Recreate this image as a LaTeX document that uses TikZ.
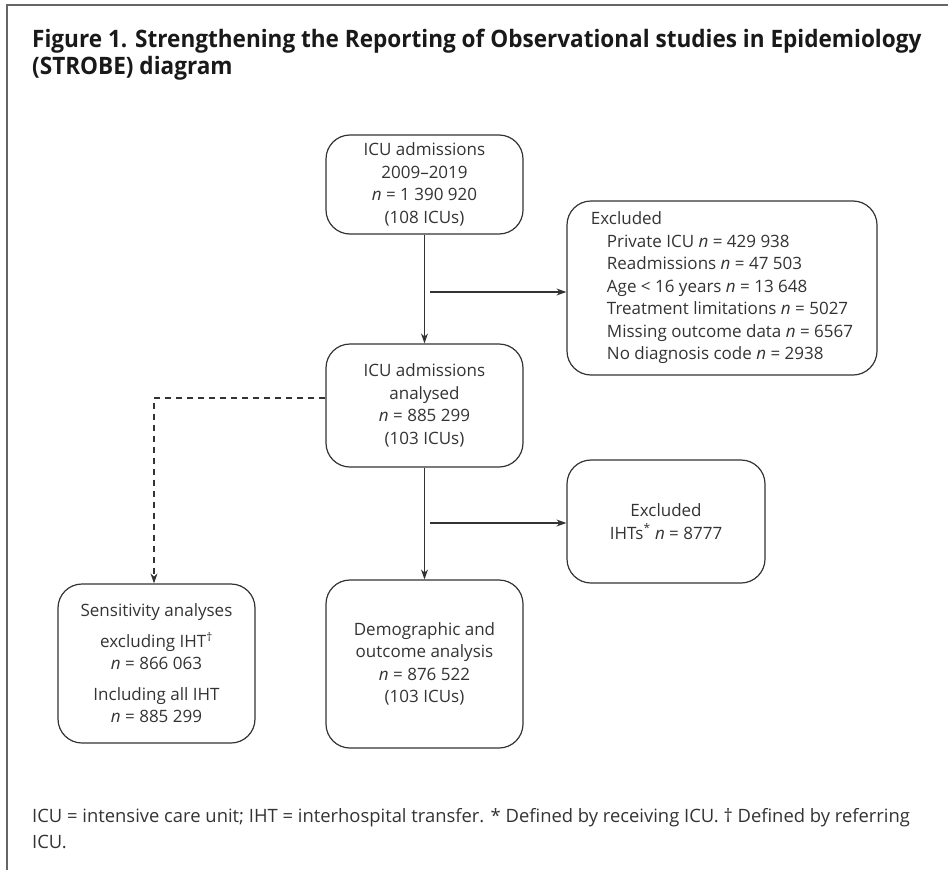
\documentclass[tikz,border=0pt]{standalone}
\usepackage{fontspec}
\setmainfont{Open Sans}
\newfontfamily\titlefont[FakeStretch=0.94]{Open Sans}
\usetikzlibrary{arrows.meta,calc}
\definecolor{ink}{HTML}{333333}
\definecolor{frame}{HTML}{666666}
\tikzset{
  box/.style={draw=ink, line width=1.2pt, rounded corners=24pt, align=center,
    text=ink, minimum width=197pt, inner sep=0pt,
    font=\fontsize{17}{22.5}\selectfont},
  conn/.style={draw=ink, line width=1.3pt, -{Stealth[length=10pt,width=7pt]}},
  dconn/.style={conn, dash pattern=on 6pt off 5pt},
}
\begin{document}
\begin{tikzpicture}[x=1pt,y=-1pt]
\useasboundingbox (0,0) rectangle (948,870);
\draw[frame, line width=1.5pt] (7,870) -- (7,5) -- (948,5);

\node[anchor=north west, align=left, inner sep=0pt, text=black!90,
  font=\titlefont\bfseries\fontsize{24}{27}\selectfont] (title) at (32,29)
  {Figure 1. Strengthening the Reporting of Observational studies in Epidemiology\\(STROBE) diagram};

\node[box, minimum height=99pt] (b1) at (424.5,184.5)
  {ICU admissions\\2009--2019\\\textit{n} = 1 390 920\\(108 ICUs)};
\node[box, minimum width=310pt, minimum height=174pt, align=left] (e1) at (722,288)
  {Excluded\\
   \hspace*{16pt}Private ICU \textit{n} = 429 938\\
   \hspace*{16pt}Readmissions \textit{n} = 47 503\\
   \hspace*{16pt}Age < 16 years \textit{n} = 13 648\\
   \hspace*{16pt}Treatment limitations \textit{n} = 5027\\
   \hspace*{16pt}Missing outcome data \textit{n} = 6567\\
   \hspace*{16pt}No diagnosis code \textit{n} = 2938};
\node[box, minimum height=123pt] (b2) at (424.5,405.5)
  {ICU admissions\\analysed\\\textit{n} = 885 299\\(103 ICUs)};
\node[box, minimum width=198pt, minimum height=123pt] (e2) at (666,521.5)
  {Excluded\\IHTs\textsuperscript{*} \textit{n} = 8777};
\node[box, minimum height=168pt] (b3) at (424.5,664)
  {Demographic and\\outcome analysis\\\textit{n} = 876 522\\(103 ICUs)};
\node[box, minimum height=159pt] (s) at (156.5,663.5)
  {Sensitivity analyses\\[8pt]excluding IHT\textsuperscript{\dag}\\\textit{n} = 866 063\\[8pt]Including all IHT\\\textit{n} = 885 299};

\coordinate (j1) at (430,292);
\coordinate (j2) at (430,523);
\coordinate (d0) at (326,398);
\draw[conn] (b1.south) -- (b2.north);
\draw[conn] (j1) -- (j1 -| e1.west);
\draw[conn] (b2.south) -- (b3.north);
\draw[conn] (j2) -- (j2 -| e2.west);
\draw[dconn] (b2.west |- d0) -| ($(s.north)+(-2.5,0)$);

\node[anchor=west, align=left, inner sep=0pt, text=ink,
  font=\fontsize{18.4}{26}\selectfont] (foot) at (32,829)
  {ICU = intensive care unit; IHT = interhospital transfer. * Defined by receiving ICU. \dag{} Defined by referring\\ICU.};
\end{tikzpicture}
\end{document}
